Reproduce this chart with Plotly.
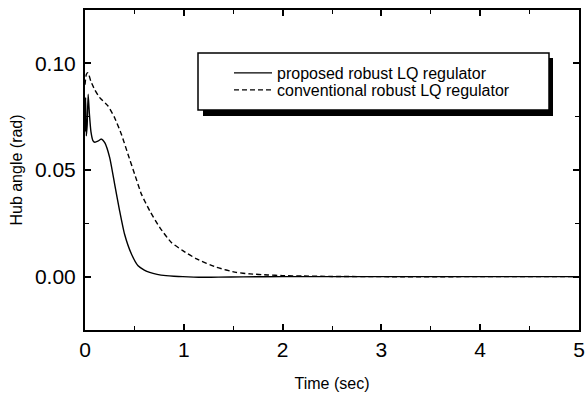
import plotly.graph_objects as go

# ---- data ----
t_proposed = [0.0, 0.006, 0.013, 0.022, 0.032, 0.045, 0.06, 0.08, 0.10, 0.13, 0.165, 0.20,
              0.25, 0.30, 0.35, 0.40, 0.47, 0.537, 0.60, 0.655, 0.73, 0.82, 0.90, 0.99,
              1.10, 1.20, 1.35, 1.60, 2.0, 3.0, 4.0, 5.0]
hub_proposed = [0.068, 0.084, 0.066, 0.071, 0.0855, 0.076, 0.068, 0.0638, 0.0630, 0.0635, 0.0645, 0.0628,
                0.0558, 0.0434, 0.031, 0.020, 0.0106, 0.0051, 0.0031, 0.0020, 0.0011, 0.0005, 0.0002, 0.0,
                -0.0002, -0.0003, -0.0002, -0.0001, 0.0, 0.0, 0.0, 0.0]

t_conventional = [0.0, 0.014, 0.03, 0.06, 0.10, 0.149, 0.233, 0.30, 0.368, 0.435, 0.503, 0.571,
                  0.655, 0.756, 0.874, 0.99, 1.13, 1.33, 1.53, 1.67, 1.85, 2.0, 2.2, 2.5, 3.0, 4.0, 5.0]
hub_conventional = [0.090, 0.0949, 0.0956, 0.0915, 0.0875, 0.0839, 0.080, 0.0745, 0.0668, 0.0574, 0.048, 0.0387,
                    0.0309, 0.0231, 0.016, 0.0122, 0.0083, 0.0044, 0.0020, 0.0013, 0.0008, 0.0005, 0.0003, 0.0001, 0.0, 0.0, 0.0]

x_ticks = [0, 1, 2, 3, 4, 5]
x_tick_labels = ["0", "1", "2", "3", "4", "5"]
y_ticks = [0.00, 0.05, 0.10]
y_tick_labels = ["0.00", "0.05", "0.10"]

series_names = ["proposed robust LQ regulator", "conventional robust LQ regulator"]

FONT = "Liberation Sans, Arial, sans-serif"

fig = go.Figure()
fig.add_trace(go.Scatter(
    x=t_proposed, y=hub_proposed, mode="lines", name=series_names[0],
    line=dict(color="black", width=1.4, shape="spline", smoothing=0.5),
    legend="legend", showlegend=True))
fig.add_trace(go.Scatter(
    x=t_conventional, y=hub_conventional, mode="lines", name=series_names[1],
    line=dict(color="black", width=1.4, dash="5px,3px", shape="spline", smoothing=0.5),
    legend="legend2", showlegend=True))

# plot area in px: x 85..579, y 10..330
def px_x(p):
    return (p - 85) / 494.0

def px_y(p):
    return 1 - (p - 10) / 320.0

axis_common = dict(
    showgrid=False, zeroline=False, showline=True, linecolor="black", linewidth=2,
    mirror="ticks", ticks="inside", ticklen=6, tickwidth=1.5, tickcolor="black",
    automargin=False,
    tickfont=dict(family=FONT, size=21, color="black"),
)

legend_common = dict(xanchor="left", yanchor="middle",
                     bgcolor="rgba(0,0,0,0)", borderwidth=0, itemwidth=38,
                     font=dict(family=FONT, size=16, color="black"))

fig.update_layout(
    width=585, height=397,
    margin=dict(l=85, r=6, t=10, b=67, autoexpand=False),
    paper_bgcolor="white", plot_bgcolor="white",
    showlegend=True,
    font=dict(family=FONT, color="black"),
    xaxis=dict(
        range=[0, 5], tickvals=x_ticks, ticktext=x_tick_labels,
        minor=dict(ticks="inside", ticklen=4, tickwidth=1.2, tickcolor="black", dtick=0.5),
        ticklabelstandoff=0,
        title=dict(text="Time (sec)", font=dict(family=FONT, size=16), standoff=18),
        **axis_common),
    yaxis=dict(
        range=[-0.025, 0.125], tickvals=y_ticks, ticktext=y_tick_labels,
        minor=dict(ticks="inside", ticklen=4, tickwidth=1.2, tickcolor="black", dtick=0.025),
        ticklabelstandoff=3,
        title=dict(text="Hub angle (rad)", font=dict(family=FONT, size=16), standoff=8),
        **axis_common),
    legend=dict(x=px_x(229), y=px_y(73), **legend_common),
    legend2=dict(x=px_x(229), y=px_y(90), **legend_common),
    shapes=[
        dict(type="rect", xref="paper", yref="paper",
             x0=px_x(203), x1=px_x(553), y0=px_y(116), y1=px_y(58),
             fillcolor="black", line=dict(width=0)),
        dict(type="rect", xref="paper", yref="paper",
             x0=px_x(198), x1=px_x(549), y0=px_y(110), y1=px_y(53),
             fillcolor="white", line=dict(color="black", width=1.5)),
    ],
)

fig.write_html("out.html",
               config={"displayModeBar": False},
               post_script="document.body.style.margin='0';document.body.style.overflow='hidden';")
